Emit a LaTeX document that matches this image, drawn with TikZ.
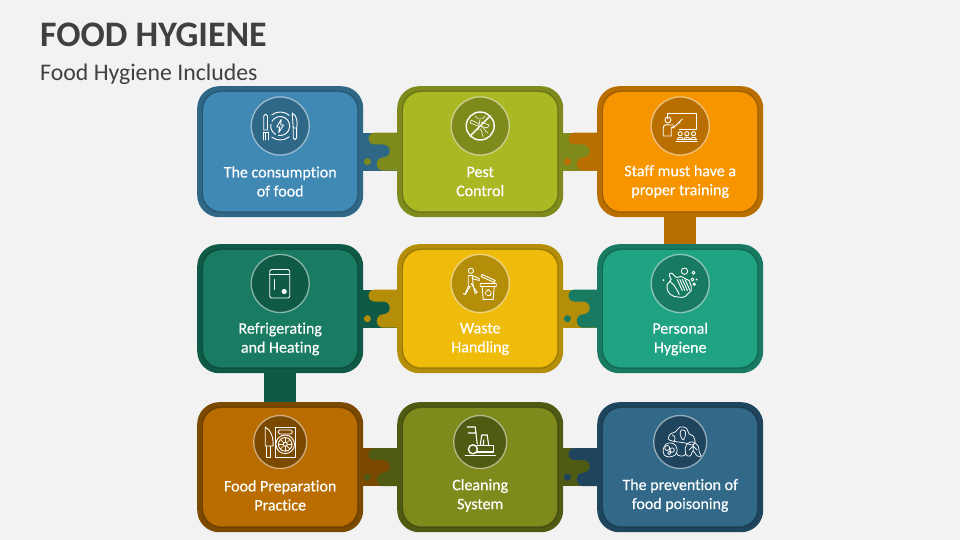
\documentclass[tikz,border=0pt]{standalone}
\usepackage{fontspec}
\setmainfont{Carlito}[Ligatures=NoCommon]
\newfontfamily\cardfont{Carlito}[FakeBold=0.35,Ligatures=NoCommon]
\definecolor{bg}{HTML}{F2F2F2}
\definecolor{ink}{HTML}{404040}
\definecolor{aI}{HTML}{4189B5}\definecolor{aO}{HTML}{2F6787}
\definecolor{bI}{HTML}{A9B823}\definecolor{bO}{HTML}{7E8A1B}
\definecolor{cI}{HTML}{F79500}\definecolor{cO}{HTML}{B96F00}
\definecolor{dI}{HTML}{197B61}\definecolor{dO}{HTML}{0F5A46}
\definecolor{eI}{HTML}{F0BC0C}\definecolor{eO}{HTML}{B48D09}
\definecolor{fI}{HTML}{1FA382}\definecolor{fO}{HTML}{177A61}
\definecolor{gI}{HTML}{B96D00}\definecolor{gO}{HTML}{7C4900}
\definecolor{hI}{HTML}{7F8A1C}\definecolor{hO}{HTML}{4F5A12}
\definecolor{iI}{HTML}{326988}\definecolor{iO}{HTML}{1F455E}
\tikzset{
  ln/.style={draw=white,line width=0.9pt,line cap=round,line join=round},
  lnb/.style={draw=white,line width=1.4pt,line cap=round,line join=round},
  label/.style={text=white,align=center,font=\cardfont\fontsize{16}{19}\selectfont,inner sep=0pt},
  ttl/.style={anchor=base west,text=ink,inner sep=0pt}
}
% name, left, top, height, inner colour, outer colour, icon radius, icon-centre y, label centre y
\newcommand{\cardbox}[9]{%
  \node[name=#1,anchor=north west,inner sep=0pt,minimum width=166pt,minimum height=#4pt,fill=#6,rounded corners=22pt] at (#2,#3) {};
  \node[name=#1s,inner sep=0pt,minimum width=156.5pt,minimum height=#4pt-9pt,fill=#6!80!black,rounded corners=19pt] at (#1.center) {};
  \node[name=#1m,inner sep=0pt,minimum width=155pt,minimum height=#4pt-10.5pt,fill=#5!50!#6!85!black,rounded corners=18.5pt] at (#1.center) {};
  \node[name=#1n,inner sep=0pt,minimum width=154pt,minimum height=#4pt-12pt,fill=#5,rounded corners=18pt] at (#1.center) {};
  \node[name=#1i,circle,inner sep=0pt,minimum size=2*#7 pt,fill=#6,draw=white,draw opacity=0.5,line width=1.3pt] at (#1.north -| #1.center) [yshift=-#8pt] {};
  \node[name=#1t,label] at (#1.north) [yshift=-#9pt] {\CardText};
}
% left node, right node, left colour, right colour
\newcommand{\hlink}[4]{%
  \fill[#3] ([yshift=-19pt]#1.east) rectangle ([yshift=19pt]#2.west);
  \begin{scope}[shift={(#1.east)}]
    \fill[#4] (34.5,-19) -- (11,-19) arc[start angle=-90,end angle=-270,radius=5.9] -- (20,-7.2) arc[start angle=-90,end angle=90,radius=6.4] -- (20,5.6) arc[start angle=-90,end angle=-270,radius=6.7] -- (34.5,19) -- cycle;
    \fill[#4] (4,10) circle[radius=3.5];
  \end{scope}
}
\begin{document}
\begin{tikzpicture}[x=1pt,y=-1pt]
\useasboundingbox[fill=bg] (0,0) rectangle (960,540);
\node[ttl,font=\fontsize{35.9}{40}\selectfont\bfseries] (title) at (40,46.5) {FOOD HYGIENE};
\node[ttl,font=\fontsize{23.8}{28}\selectfont] (subtitle) at (40,80.5) {Food Hygiene Includes};

\def\CardText{The consumption\\of food}\cardbox{ca}{197}{86}{131}{aI}{aO}{29}{40}{95.5}
\def\CardText{Pest\\Control}\cardbox{cb}{397}{86}{131}{bI}{bO}{29}{40}{95.5}
\def\CardText{Staff must have a\\proper training}\cardbox{cc}{597}{86}{131}{cI}{cO}{29}{40}{95.5}
\def\CardText{Refrigerating\\and Heating}\cardbox{cd}{197}{244}{129}{dI}{dO}{29}{39.5}{95}
\def\CardText{Waste\\Handling}\cardbox{ce}{397}{244}{129}{eI}{eO}{29}{39.5}{95}
\def\CardText{Personal\\Hygiene}\cardbox{cf}{597}{244}{129}{fI}{fO}{29}{39.5}{95}
\def\CardText{Food Preparation\\Practice}\cardbox{cg}{197}{402}{130}{gI}{gO}{26.5}{40}{93.4}
\def\CardText{Cleaning\\System}\cardbox{ch}{397}{402}{130}{hI}{hO}{26.5}{40}{93.4}
\def\CardText{The prevention of\\food poisoning}\cardbox{ci}{597}{402}{130}{iI}{iO}{26.5}{40}{93.4}

\hlink{ca}{cb}{aO}{bO}
\hlink{cb}{cc}{bO}{cO}
\hlink{cd}{ce}{dO}{eO}
\hlink{ce}{cf}{eO}{fO}
\hlink{cg}{ch}{gO}{hO}
\hlink{ch}{ci}{hO}{iO}
\fill[cO] ([xshift=-16pt]cc.south) rectangle ([xshift=16pt]cf.north);
\fill[dO] ([xshift=-16pt]cd.south) rectangle ([xshift=16pt]cg.north);

% icon 1: plate, fork, knife
\begin{scope}[shift={(cai.center)}]
  \draw[ln] (-127:14) arc[start angle=-127,end angle=-50,radius=14];
  \draw[ln] (127:14) arc[start angle=127,end angle=50,radius=14];
  \draw[ln] (-150:9.5) arc[start angle=-150,end angle=100,radius=9.5];
  \draw[ln] (120:9.5) arc[start angle=120,end angle=190,radius=9.5];
  \draw[ln] (1,-6.5) -- (-3.5,1) -- (-0.5,1) -- (-1.5,6.5) -- (3.5,-1) -- (0.5,-1) -- cycle;
  \draw[ln] (-16.5,4) -- (-16.5,-10) arc[start angle=180,end angle=360,radius=1.9] -- (-12.7,4) -- cycle;
  \draw[ln] (-17,6) -- (-17,14) (-14.5,7) -- (-14.5,14) (-12,6) -- (-12,14) (-17,6) -- (-12,6);
  \draw[ln] (12,-13) .. controls (17,-11) and (17.5,-3) .. (16.5,2) -- (13,2) -- (12,-13);
  \draw[ln] (13,2) -- (13,12) arc[start angle=180,end angle=0,radius=1.7] -- (16.5,2);
\end{scope}
% icon 2: mosquito
\begin{scope}[shift={(cbi.center)}]
  \draw[lnb] (0,0) circle[radius=14];
  \draw[lnb] (10,-10) -- (-10,10);
  \draw[ln,line width=0.6pt] (0,-8) -- (-2,4) (-1,-2) -- (-9,-6) -- (-10,-3) -- (-2,0);
  \draw[ln,line width=0.6pt] (1,-4) -- (9,-1) -- (7,2) -- (0,0);
  \draw[ln,line width=0.6pt] (-2,-7) -- (-5,-10) (2,-7) -- (5,-10);
  \draw[ln,line width=0.6pt] (0,3) .. controls (3,6) and (1,8) .. (3,11) (2,1) .. controls (6,4) and (5,7) .. (8,7);
\end{scope}
% icon 3: training
\begin{scope}[shift={(cci.center)}]
  \draw[ln] (-13,-7) -- (-13,-13) -- (16,-13) -- (16,3) -- (-1,3);
  \draw[ln] (-12.3,-6) circle[radius=3];
  \draw[ln] (-5,0) -- (2,-7) (-5,0) -- (-7,2) (0,-3) -- (-2,-3);
  \draw[ln] (-17,10) -- (-17,2) .. controls (-17,-1) and (-14,-2) .. (-11,-1) -- (-7,-1) -- (-7,1) -- (-9,2) -- (-9,10) -- cycle;
  \foreach \p in {0,6.7,13.3}{
    \draw[ln] (\p,7.7) circle[radius=2.1];
    \draw[ln] (\p-3,13.5) .. controls (\p-3,10.5) and (\p+3,10.5) .. (\p+3,13.5);
  }
  \draw[ln] (-4,15) -- (17,15) (-3,13.5) -- (16.5,13.5);
\end{scope}
% icon 4: fridge
\begin{scope}[shift={(cdi.center)}]
  \draw[ln,rounded corners=1.5pt] (-10.5,-14) rectangle (9.5,14.5);
  \draw[ln] (-10.5,-9) -- (9.5,-9) (-6,-4) -- (-6,6);
  \fill[white] (4,8) circle[radius=2.6];
\end{scope}
% icon 5: waste
\begin{scope}[shift={(cei.center)}]
  \draw[ln] (-9.3,-12.7) circle[radius=2.6];
  \draw[ln] (-12,-8) -- (-12,3) -- (-15,10) (-8,-8) -- (-7,2) -- (-5,10) -- (-3,9) -- (-9,0);
  \draw[ln] (-12,-8) -- (-8,-8) -- (-1,-5) -- (-1,-3) -- (-8,-5);
  \draw[ln] (-12,3) -- (-10,3) -- (-15,11) -- (-17,10);
  \draw[ln] (0,0) -- (16,0) -- (16,3) -- (0,3) -- cycle (2,3) -- (3,16) -- (13,16) -- (14,3);
  \draw[ln] (2,-9) -- (15,-3) -- (14,-1) -- (1,-7) -- cycle;
  \draw[ln] (6,8) -- (8,6) -- (10,8) (11,9) -- (10,12) -- (7,12) (6,11) -- (5,9);
\end{scope}
% icon 6: hands
\begin{scope}[shift={(cfi.center)}]
  \draw[ln] (-9,-4) .. controls (-12,-8) and (-11,-12) .. (-8,-10) -- (-4,-6) -- (1,-7) -- (9,-3) -- (11,3) -- (11,7) -- (5,13) .. controls (1,15) and (-3,13) .. (-6,13) .. controls (-12,11) and (-14,6) .. (-13,1) -- cycle;
  \draw[ln] (-10,-2) -- (-6,2) .. controls (-5,5) and (-2,7) .. (-1,11);
  \foreach \d in {0,2.6,5.2,7.8}{\draw[ln] (-3+\d,-4) -- (2+\d,7);}
  \draw[ln] (4.3,-12.3) circle[radius=3.2] (13.3,-10.7) circle[radius=1.5] (12.3,-4) circle[radius=1.5] (14,0.7) circle[radius=1.3];
  \fill[white] (16.5,-4) circle[radius=1] (-16.7,-3.3) circle[radius=1];
\end{scope}
% icon 7: food preparation
\begin{scope}[shift={(cgi.center)}]
  \draw[ln] (-15,-15) .. controls (-9,-12) and (-7,-5) .. (-7,4) -- (-15,4) -- cycle;
  \draw[ln] (-14,4) -- (-14,15) -- (-10,15) -- (-10,4);
  \draw[ln] (-5,-15) rectangle (15,15);
  \draw[ln,rounded corners=1.5pt] (-2,-12) rectangle (12,-8);
  \draw[ln] (5,2.3) circle[radius=9.3] (5,2.3) circle[radius=6.8] (5,2.3) circle[radius=2];
  \foreach \a in {0,45,...,315}{\draw[ln,line width=0.6pt] (5,2.3) ++(\a:2) -- ++(\a:4.8);}
\end{scope}
% icon 8: cleaning machine
\begin{scope}[shift={(chi.center)}]
  \draw[lnb] (-15,13.3) -- (15,13.3);
  \draw[lnb] (-7.3,7.3) circle[radius=4.5];
  \draw[ln,line width=1.1pt] (-3,3.5) -- (13.5,3.5) -- (13.5,10) -- (-3,10);
  \draw[ln,line width=1.1pt] (0,3.5) -- (1.5,-7) -- (7,-7) -- (8.5,3.5) (3,3.5) -- (3.5,-2);
  \draw[ln,line width=1.1pt] (-3,2) -- (-5,-15) -- (-13,-15) (-4,-9) -- (-12,-9);
\end{scope}
% icon 9: food poisoning
\begin{scope}[shift={(cii.center)}]
  \draw[ln,line width=0.7pt] plot[smooth cycle] coordinates {(-5,-10) (0,-15) (6,-14) (9,-8) (13,-6) (15,0) (12,3) (5,1) (-2,0) (-8,-1) (-12,-3) (-10,-8)};
  \draw[ln,line width=0.7pt] plot[smooth cycle] coordinates {(1,-12) (5,-11) (5,-6) (3,-2) (0,-7)};
  \draw[ln,line width=0.7pt] (-8,-7) .. controls (-4,-6) and (-5,-2) .. (-6,0);
  \draw[ln,line width=0.7pt] plot[smooth cycle] coordinates {(-17,7) (-14,2) (-9,1) (-5,3) (-3,8) (-5,13) (-11,15) (-16,13)};
  \draw[ln,line width=0.7pt] (-13,6) circle[radius=2.5] (-8,8) circle[radius=2.2] (-11,11) circle[radius=1.6];
  \draw[ln,line width=0.7pt] plot[smooth cycle] coordinates {(5,6) (8,1) (13,0) (18,4) (19,10) (21,14) (17,14) (13,9) (10,14) (6,13)};
  \draw[ln,line width=0.7pt] (13,2) -- (13,9) (9,8) -- (13,4) -- (17,8);
  \draw[ln,line width=0.7pt] (-4,11) .. controls (-2,15) and (3,15) .. (6,12);
\end{scope}
\end{tikzpicture}
\end{document}
